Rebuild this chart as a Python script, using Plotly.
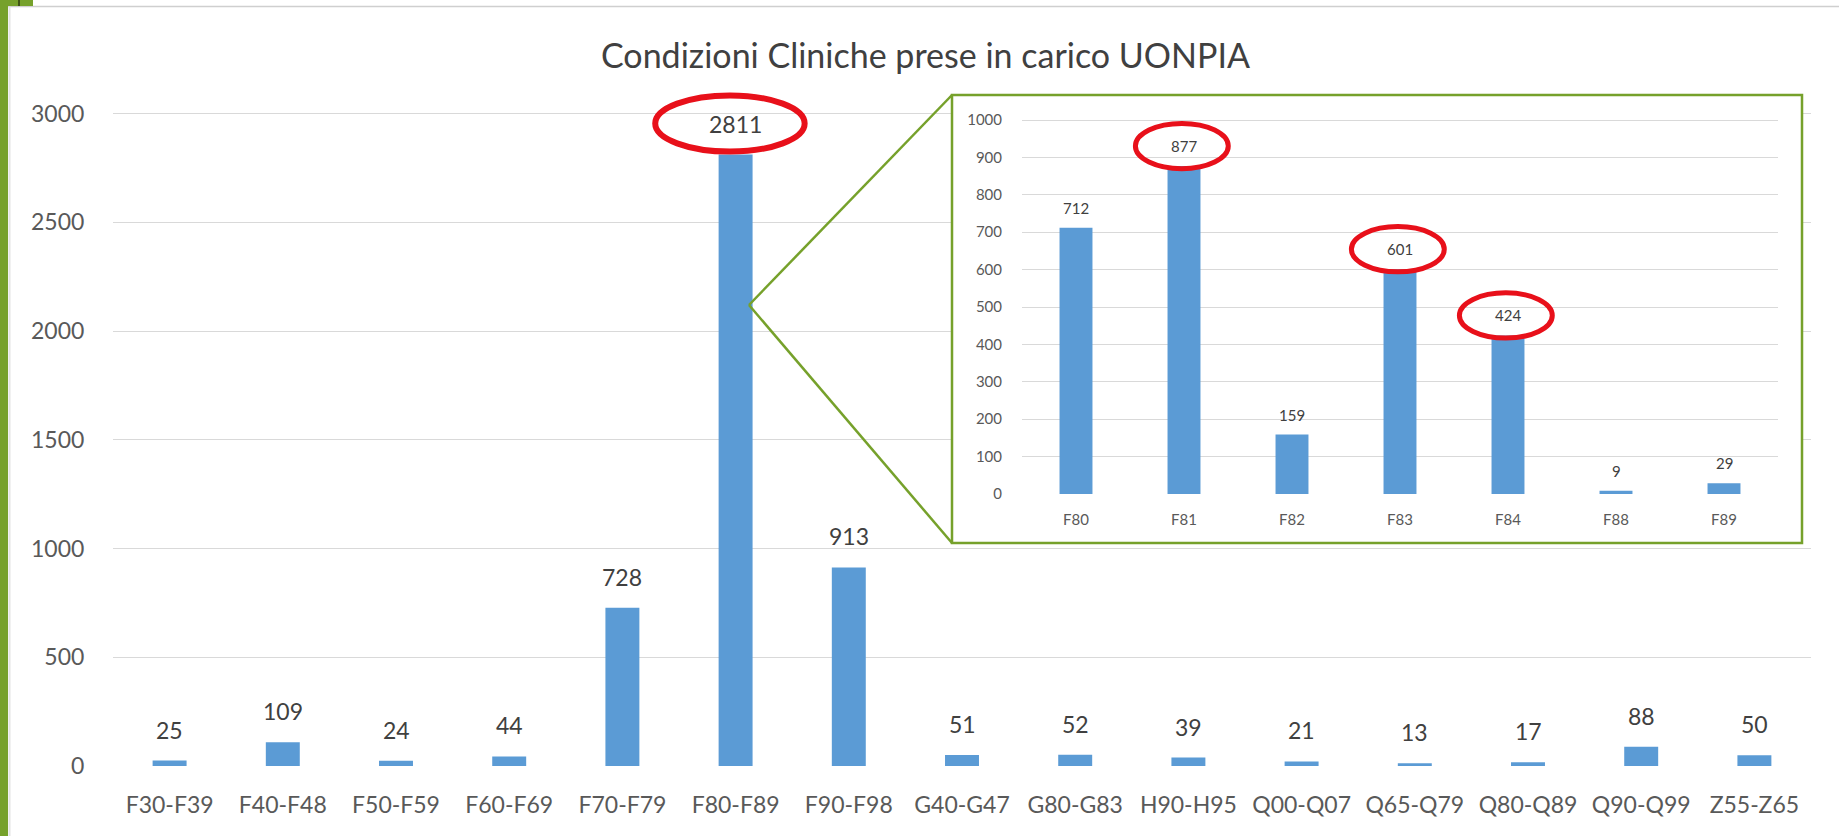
import plotly.graph_objects as go

# ---------------- data ----------------
main_categories = ["F30-F39", "F40-F48", "F50-F59", "F60-F69", "F70-F79",
                   "F80-F89", "F90-F98", "G40-G47", "G80-G83", "H90-H95",
                   "Q00-Q07", "Q65-Q79", "Q80-Q89", "Q90-Q99", "Z55-Z65"]
main_values = [25, 109, 24, 44, 728, 2811, 913, 51, 52, 39, 21, 13, 17, 88, 50]
main_ticks = [0, 500, 1000, 1500, 2000, 2500, 3000]

inset_categories = ["F80", "F81", "F82", "F83", "F84", "F88", "F89"]
inset_values = [712, 877, 159, 601, 424, 9, 29]
inset_ticks = [0, 100, 200, 300, 400, 500, 600, 700, 800, 900, 1000]

main_highlight = ["F80-F89"]
inset_highlight = ["F81", "F83", "F84"]

title_text = "Condizioni Cliniche prese in carico UONPIA"

# ---------------- styling ----------------
W, H = 1839, 836
FONT = "Lato"
BAR = "#5B9BD5"
GRID = "#D9D9D9"
TICK = "#595959"
LABEL = "#404040"
GREEN = "#76A12B"
RED = "#E8101A"


def px(x):
    return x / W


def py(y):
    return 1 - y / H


fig = go.Figure()

fig.add_trace(go.Bar(
    x=main_categories, y=main_values, xaxis="x", yaxis="y",
    marker=dict(color=BAR, line=dict(width=0)), width=0.3,
    hoverinfo="x+y", showlegend=False))

# dummy subplot that carries the inset's white background
fig.add_trace(go.Scatter(
    x=[0.5], y=[0.5], xaxis="x2", yaxis="y2", mode="markers",
    marker=dict(size=1, opacity=0), hoverinfo="skip", showlegend=False))

fig.add_trace(go.Bar(
    x=inset_categories, y=inset_values, xaxis="x3", yaxis="y3",
    marker=dict(color=BAR, line=dict(width=0)), width=0.305,
    hoverinfo="x+y", showlegend=False))

annotations = []
for c, v in zip(main_categories, main_values):
    annotations.append(dict(
        x=c, y=v, xref="x", yref="y", text=str(v), showarrow=False,
        xanchor="center", yanchor="middle", yshift=31,
        font=dict(family=FONT, size=23, color=LABEL)))
for c, v in zip(inset_categories, inset_values):
    annotations.append(dict(
        x=c, y=v, xref="x3", yref="y3", text=str(v), showarrow=False,
        xanchor="center", yanchor="middle", yshift=20,
        font=dict(family=FONT, size=15, color=LABEL)))
annotations.append(dict(
    x=px(925), y=py(54), xref="paper", yref="paper", text=title_text,
    showarrow=False, xanchor="center", yanchor="middle",
    font=dict(family=FONT, size=34, color=LABEL)))

shapes = []
# white background of the inset (above main gridlines)
shapes.append(dict(type="rect", xref="x2", yref="y2", x0=0, x1=1, y0=0, y1=1,
                   fillcolor="white", line=dict(width=0), layer="below"))
# inset border
shapes.append(dict(type="rect", xref="paper", yref="paper",
                   x0=px(952), x1=px(1802), y0=py(543), y1=py(95),
                   line=dict(color=GREEN, width=2.5), layer="above"))
# connector lines from the zoomed bar
shapes.append(dict(type="line", xref="paper", yref="paper",
                   x0=px(749), y0=py(305), x1=px(952), y1=py(95),
                   line=dict(color=GREEN, width=2.5), layer="above"))
shapes.append(dict(type="line", xref="paper", yref="paper",
                   x0=px(749), y0=py(305), x1=px(952), y1=py(543),
                   line=dict(color=GREEN, width=2.5), layer="above"))

# red ellipses
for c in main_highlight:
    i = main_categories.index(c)
    v = main_values[i]
    shapes.append(dict(type="circle", xref="x", yref="y",
                       x0=i - 0.71, x1=i + 0.61, y0=v + 14, y1=v + 272,
                       line=dict(color=RED, width=6), layer="above"))
for c in inset_highlight:
    i = inset_categories.index(c)
    v = inset_values[i]
    shapes.append(dict(type="circle", xref="x3", yref="y3",
                       x0=i - 0.45, x1=i + 0.41, y0=v - 7, y1=v + 114,
                       line=dict(color=RED, width=5), layer="above"))

# slide decoration
shapes.append(dict(type="line", xref="paper", yref="paper",
                   x0=px(8), x1=1, y0=py(6.5), y1=py(6.5),
                   line=dict(color="#CFCFCF", width=1.5), layer="above"))
shapes.append(dict(type="line", xref="paper", yref="paper",
                   x0=px(9.5), x1=px(9.5), y0=0, y1=py(6.5),
                   line=dict(color="#E4E4E4", width=2), layer="above"))
shapes.append(dict(type="rect", xref="paper", yref="paper",
                   x0=0, x1=px(8), y0=0, y1=1,
                   fillcolor=GREEN, line=dict(width=0), layer="above"))
shapes.append(dict(type="rect", xref="paper", yref="paper",
                   x0=0, x1=px(33), y0=py(6), y1=1,
                   fillcolor=GREEN, line=dict(width=0), layer="above"))
shapes.append(dict(type="line", xref="paper", yref="paper",
                   x0=px(19), x1=px(19), y0=py(6), y1=1,
                   line=dict(color="#2F3D10", width=1.5), layer="above"))

fig.update_layout(
    template="none",
    width=W, height=H, autosize=False,
    margin=dict(l=0, r=0, t=0, b=0, pad=0, autoexpand=False),
    paper_bgcolor="white", plot_bgcolor="white",
    showlegend=False,
    bargap=0.7,
    annotations=annotations,
    shapes=shapes,
    xaxis=dict(
        domain=[px(113), px(1811)], anchor="y", type="category",
        categoryorder="array", categoryarray=main_categories,
        showgrid=False, zeroline=False, showline=False, automargin=False,
        ticks="outside", ticklen=18, tickcolor="rgba(0,0,0,0)",
        tickfont=dict(family=FONT, size=23, color=TICK), fixedrange=True),
    yaxis=dict(
        domain=[py(766), py(87.4)], anchor="x",
        range=[0, 3120], tickmode="array", tickvals=main_ticks,
        showgrid=True, gridcolor=GRID, gridwidth=1.3, automargin=False,
        zeroline=False, showline=False,
        ticks="outside", ticklen=23, tickcolor="rgba(0,0,0,0)",
        tickfont=dict(family=FONT, size=23, color=TICK), fixedrange=True),
    xaxis2=dict(domain=[px(952), px(1802)], anchor="y2", range=[0, 1],
                visible=False, fixedrange=True, automargin=False),
    yaxis2=dict(domain=[py(543), py(95)], anchor="x2", range=[0, 1],
                visible=False, fixedrange=True, automargin=False),
    xaxis3=dict(
        domain=[px(1022), px(1778)], anchor="y3", type="category",
        categoryorder="array", categoryarray=inset_categories,
        showgrid=False, zeroline=False, showline=False, automargin=False,
        ticks="outside", ticklen=12, tickcolor="rgba(0,0,0,0)",
        tickfont=dict(family=FONT, size=15, color=TICK), fixedrange=True),
    yaxis3=dict(
        domain=[py(494), py(108.8)], anchor="x3",
        range=[0, 1030], tickmode="array", tickvals=inset_ticks,
        showgrid=True, gridcolor=GRID, gridwidth=1.2, automargin=False,
        zeroline=False, showline=False,
        ticks="outside", ticklen=16, tickcolor="rgba(0,0,0,0)",
        tickfont=dict(family=FONT, size=15, color=TICK), fixedrange=True),
)

fig.write_html(
    "out.html",
    config={"displayModeBar": False},
    post_script="document.body.style.margin='0';"
                "document.body.style.padding='0';"
                "document.body.style.overflow='hidden';")
